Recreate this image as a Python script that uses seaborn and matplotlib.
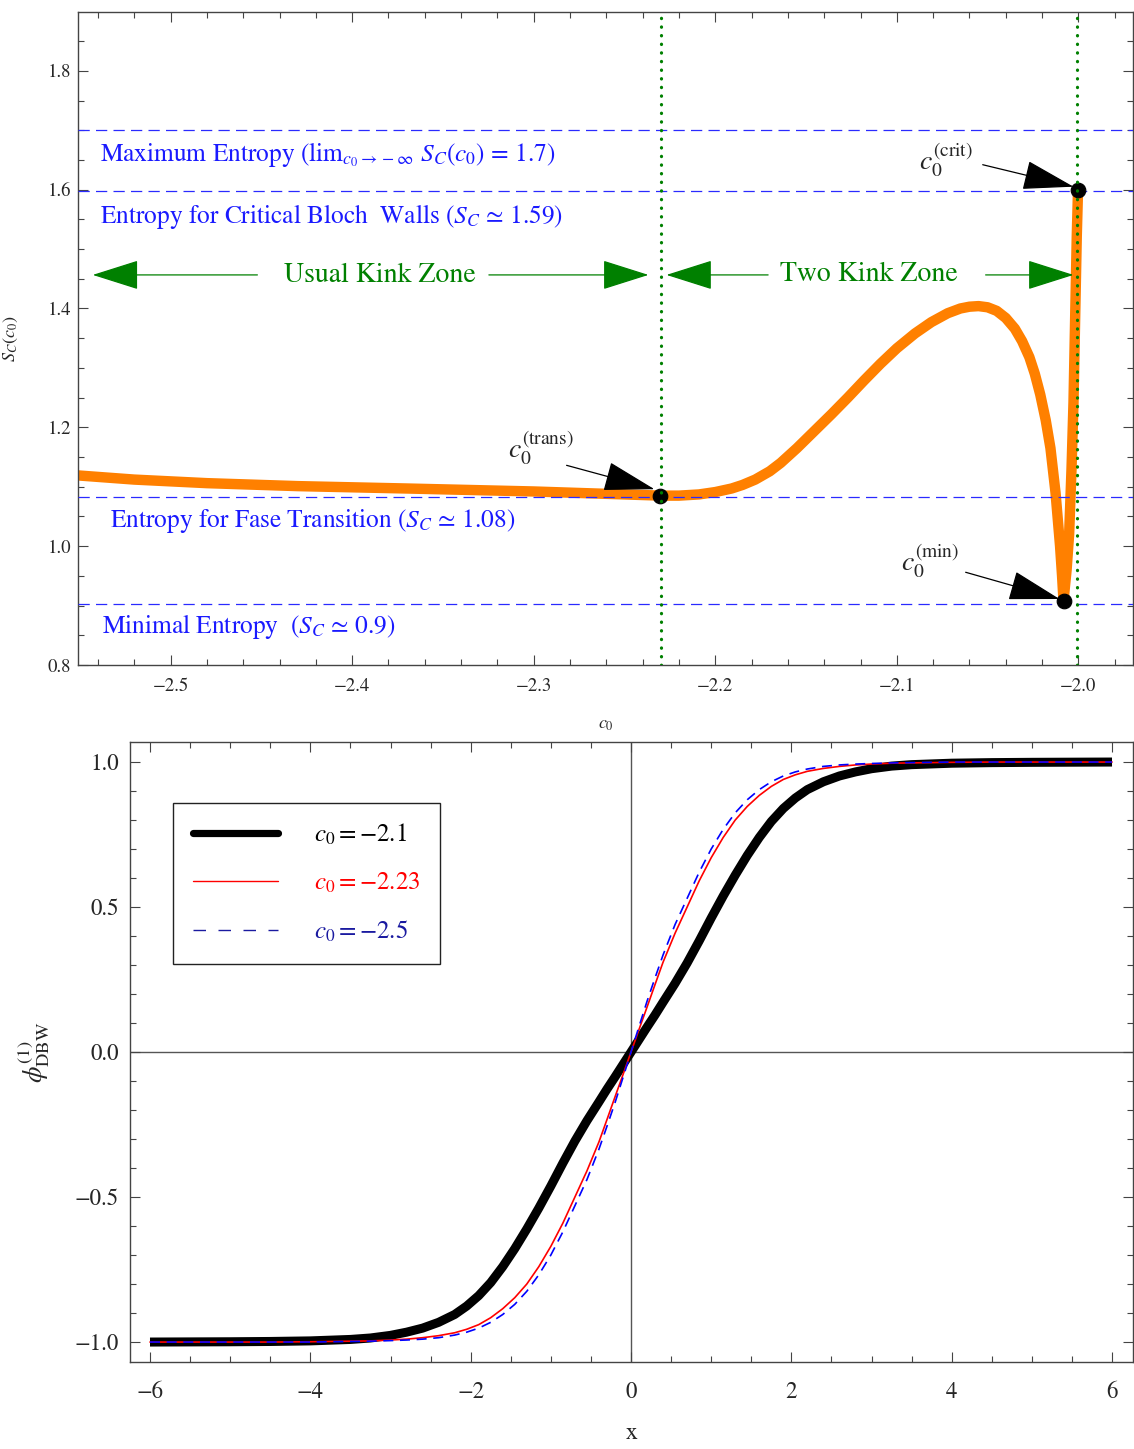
import matplotlib
matplotlib.use("Agg")
import matplotlib.pyplot as plt
import seaborn as sns
from matplotlib.lines import Line2D
from matplotlib.ticker import MultipleLocator, ScalarFormatter

# --- top panel data: entropy S_C(c0) ---
c0_vals = [-2.551, -2.52, -2.48, -2.43, -2.37, -2.30, -2.26, -2.23, -2.22, -2.209,
           -2.2, -2.191, -2.185, -2.178, -2.17, -2.164, -2.155, -2.145, -2.136, -2.127,
           -2.118, -2.109, -2.1, -2.09, -2.081, -2.072, -2.065, -2.06, -2.055, -2.05,
           -2.045, -2.04, -2.035, -2.031, -2.027, -2.024, -2.021, -2.018, -2.0154,
           -2.0126, -2.0101, -2.009, -2.0082, -2.0065, -2.0051, -2.0038, -2.0027,
           -2.0018, -2.0009, -2.0002]
sc_vals = [1.119, 1.112, 1.106, 1.101, 1.097, 1.092, 1.088, 1.085, 1.085, 1.087,
           1.091, 1.097, 1.103, 1.112, 1.126, 1.140, 1.165, 1.195, 1.222, 1.250,
           1.279, 1.307, 1.333, 1.358, 1.377, 1.392, 1.400, 1.403, 1.404, 1.402,
           1.396, 1.384, 1.366, 1.345, 1.318, 1.290, 1.255, 1.212, 1.165,
           1.090, 1.000, 0.950, 0.908, 0.960, 1.020, 1.129, 1.242,
           1.382, 1.521, 1.600]

entropy_levels = [1.70, 1.598, 1.082, 0.902]
zone_borders = [-2.23, -2.0009]
special_c = [-2.2305, -2.0082, -2.0002]
special_s = [1.084, 0.907, 1.600]

# --- bottom panel data: phi_DBW(x) ---
x_vals = [-6, -5, -4.5, -4, -3.5, -3.25, -3.0, -2.8, -2.6, -2.4, -2.2, -2.05, -1.9, -1.75,
          -1.6, -1.45, -1.3, -1.15, -1.0, -0.85, -0.7, -0.55, -0.4, -0.3, -0.2, -0.1, 0,
          0.1, 0.2, 0.3, 0.4, 0.55, 0.7, 0.85, 1.0, 1.15, 1.3, 1.45, 1.6, 1.75, 1.9,
          2.05, 2.2, 2.4, 2.6, 2.8, 3.0, 3.25, 3.5, 4, 4.5, 5, 6]
phi_21 = [-1.0, -0.999, -0.998, -0.996, -0.991, -0.986, -0.977, -0.966, -0.952, -0.932,
          -0.905, -0.876, -0.84, -0.795, -0.74, -0.678, -0.61, -0.538, -0.462, -0.383,
          -0.307, -0.237, -0.172, -0.128, -0.086, -0.043, 0.0,
          0.043, 0.086, 0.128, 0.172, 0.237, 0.307, 0.383, 0.462, 0.538, 0.61, 0.678, 0.74,
          0.795, 0.84, 0.876, 0.905, 0.932, 0.952, 0.966, 0.977, 0.986, 0.991, 0.996,
          0.998, 0.999, 1.0]
phi_223 = [-1.0, -1.0, -1.0, -0.999, -0.997, -0.996, -0.993, -0.99, -0.985, -0.978,
           -0.968, -0.956, -0.94, -0.916, -0.885, -0.847, -0.80, -0.74, -0.67, -0.59,
           -0.50, -0.41, -0.31, -0.233, -0.155, -0.078, 0.0,
           0.078, 0.155, 0.233, 0.31, 0.41, 0.50, 0.59, 0.67, 0.74, 0.80, 0.847, 0.885,
           0.916, 0.94, 0.956, 0.968, 0.978, 0.985, 0.99, 0.993, 0.996, 0.997, 0.999,
           1.0, 1.0, 1.0]
phi_25 = [-1.0, -1.0, -1.0, -1.0, -0.998, -0.997, -0.995, -0.993, -0.99, -0.985,
          -0.976, -0.966, -0.952, -0.932, -0.905, -0.87, -0.825, -0.768, -0.70, -0.62,
          -0.53, -0.44, -0.335, -0.256, -0.175, -0.088, 0.0,
          0.088, 0.175, 0.256, 0.335, 0.44, 0.53, 0.62, 0.70, 0.768, 0.825, 0.87, 0.905,
          0.932, 0.952, 0.966, 0.976, 0.985, 0.99, 0.993, 0.995, 0.997, 0.998, 1.0,
          1.0, 1.0, 1.0]
legend_labels = [r"$c_0 = -2.1$", r"$c_0 = -2.23$", r"$c_0 = -2.5$"]

sns.set_theme(style="ticks")
plt.rcParams["font.family"] = ["STIXGeneral", "DejaVu Serif"]
plt.rcParams["mathtext.fontset"] = "stix"
plt.rcParams["axes.unicode_minus"] = True

fig = plt.figure(figsize=(11.34, 14.49), dpi=100)
ax1 = fig.add_axes([0.0688, 0.5411, 0.9302, 0.4506])
ax2 = fig.add_axes([0.1146, 0.0600, 0.8844, 0.4279])

frame_col = "#444444"
for ax in (ax1, ax2):
    for sp in ax.spines.values():
        sp.set_color(frame_col)
        sp.set_linewidth(1.0)
        sp.set_visible(True)
    ax.tick_params(which="both", direction="in", top=True, right=True, color=frame_col, width=0.8)
    ax.tick_params(which="major", length=7)
    ax.tick_params(which="minor", length=4)

# ---------------- top panel ----------------
for lev in entropy_levels:
    ax1.axhline(lev, color="#2a2aff", lw=0.9, dashes=(9, 5), zorder=3)

sns.lineplot(x=c0_vals, y=sc_vals, ax=ax1, color="#ff8000", linewidth=7.5,
             sort=False, estimator=None, solid_joinstyle="round", zorder=2)
sns.scatterplot(x=special_c, y=special_s, ax=ax1, color="black", s=110,
                edgecolor="black", zorder=5)
for cb in zone_borders:
    ax1.axvline(cb, color="#008000", lw=2.3, linestyle=(0, (0.1, 2.6)),
                dash_capstyle="round", zorder=6)

ax1.set_xlim(-2.551, -1.97)
ax1.set_ylim(0.8, 1.899)
ax1.xaxis.set_major_locator(MultipleLocator(0.1))
ax1.xaxis.set_minor_locator(MultipleLocator(0.02))
ax1.yaxis.set_major_locator(MultipleLocator(0.2))
ax1.yaxis.set_minor_locator(MultipleLocator(0.05))
ax1.xaxis.set_major_formatter(ScalarFormatter(useOffset=False))
ax1.tick_params(axis="both", labelsize=13.5)
ax1.tick_params(axis="x", pad=9)
ax1.tick_params(axis="y", pad=5)
ax1.set_xlabel(r"$c_0$", fontsize=13, labelpad=16)
ax1.set_ylabel(r"$S_C(c_0)$", fontsize=13, labelpad=20)

blue_txt = "#1a1aff"
ax1.text(-2.539, 1.660, r"Maximum Entropy (lim$_{c_0\rightarrow-\infty}$ $S_C(c_0)$ = 1.7)",
         color=blue_txt, fontsize=18.3, va="center", ha="left")
ax1.text(-2.539, 1.555, "Entropy for Critical Bloch  Walls ($S_C$ \u2243 1.59)",
         color=blue_txt, fontsize=18.3, va="center", ha="left")
ax1.text(-2.5335, 1.042, "Entropy for Fase Transition ($S_C$ \u2243 1.08)",
         color=blue_txt, fontsize=18.3, va="center", ha="left")
ax1.text(-2.538, 0.864, "Minimal Entropy  ($S_C$ \u2243 0.9)",
         color=blue_txt, fontsize=18.3, va="center", ha="left")

green = "#008000"
ax1.text(-2.3846, 1.4555, "Usual Kink Zone", color=green, fontsize=20, va="center", ha="center")
ax1.text(-2.1154, 1.457, "Two Kink Zone", color=green, fontsize=20, va="center", ha="center")
garrow = dict(arrowstyle="-|>,head_length=3.0,head_width=0.95", color=green, lw=0.9,
              mutation_scale=10, shrinkA=0, shrinkB=0)
for start, end in [(-2.4522, -2.5429), (-2.3247, -2.2368), (-2.1709, -2.2269), (-2.0511, -2.0027)]:
    ax1.annotate("", xy=(end, 1.4565), xytext=(start, 1.4565), arrowprops=garrow)

karrow = dict(arrowstyle="-|>,head_length=3.3,head_width=0.95", color="black", lw=0.9,
              mutation_scale=10, shrinkA=0, shrinkB=0)
ax1.annotate("", xy=(-2.0027, 1.605), xytext=(-2.0527, 1.642), arrowprops=karrow, zorder=7)
ax1.annotate("", xy=(-2.2335, 1.0958), xytext=(-2.2819, 1.136), arrowprops=karrow, zorder=7)
ax1.annotate("", xy=(-2.0104, 0.911), xytext=(-2.0621, 0.956), arrowprops=karrow, zorder=7)
ax1.text(-2.0731, 1.650, r"$c_0^{(\mathrm{crit})}$", fontsize=20, ha="center", va="center")
ax1.text(-2.2962, 1.166, r"$c_0^{(\mathrm{trans})}$", fontsize=20, ha="center", va="center")
ax1.text(-2.0819, 0.975, r"$c_0^{(\mathrm{min})}$", fontsize=20, ha="center", va="center")

# ---------------- bottom panel ----------------
ax2.axhline(0, color="#555555", lw=1.0, zorder=0)
ax2.axvline(0, color="#555555", lw=1.0, zorder=0)
sns.lineplot(x=x_vals, y=phi_21, ax=ax2, color="black", linewidth=6.5, sort=False,
             estimator=None, solid_capstyle="butt", solid_joinstyle="round", zorder=2)
sns.lineplot(x=x_vals, y=phi_223, ax=ax2, color="red", linewidth=1.2, sort=False,
             estimator=None, zorder=3)
sns.lineplot(x=x_vals, y=phi_25, ax=ax2, color="blue", linewidth=1.2, sort=False,
             estimator=None, zorder=4)
ax2.lines[-1].set_dashes((6, 4))

ax2.set_xlim(-6.25, 6.26)
ax2.set_ylim(-1.069, 1.069)
ax2.xaxis.set_major_locator(MultipleLocator(2))
ax2.xaxis.set_minor_locator(MultipleLocator(0.5))
ax2.yaxis.set_major_locator(MultipleLocator(0.5))
ax2.yaxis.set_minor_locator(MultipleLocator(0.1))
ax2.tick_params(axis="both", labelsize=16.5)
ax2.tick_params(axis="x", pad=14)
ax2.tick_params(axis="y", pad=8)
ax2.set_xlabel("x", fontsize=17, labelpad=14)
ax2.set_ylabel(r"$\phi^{(1)}_{\mathrm{DBW}}$", fontsize=19, labelpad=16)

handles = [Line2D([], [], color="black", lw=5.2),
           Line2D([], [], color="red", lw=1.0),
           Line2D([], [], color="#1a1aa0", lw=1.0, dashes=(9, 9))]
leg = ax2.legend(handles, legend_labels, loc="upper left", bbox_to_anchor=(0.043, 0.902),
                 borderaxespad=0, fontsize=18, frameon=True, fancybox=False, framealpha=1,
                 edgecolor="#222222", handlelength=3.4, handletextpad=1.45,
                 labelspacing=0.95, borderpad=0.78,
                 labelcolor=["black", "red", "#1a1aa0"])
leg.get_frame().set_linewidth(1.0)

fig.savefig("out.png", dpi=100)
